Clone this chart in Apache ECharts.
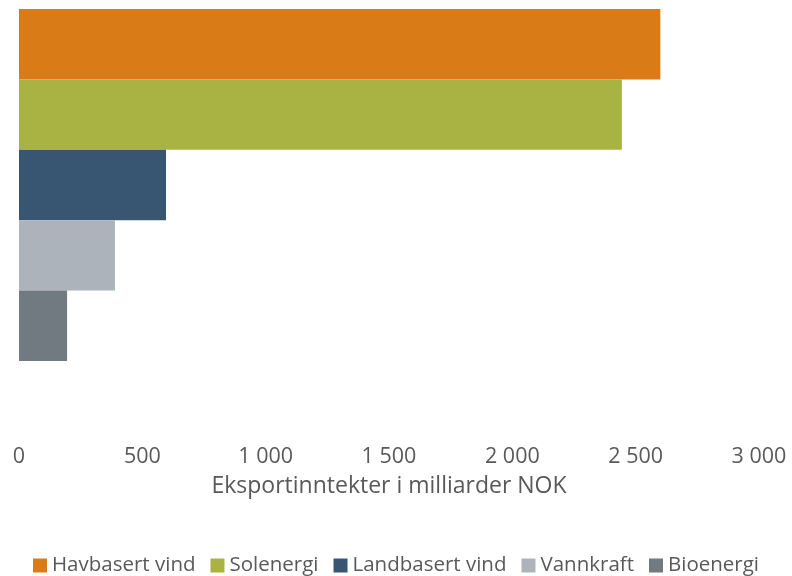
<!DOCTYPE html>
<html>
<head>
<meta charset="utf-8">
<script src="https://cdn.jsdelivr.net/npm/echarts@6/dist/echarts.min.js"></script>
<style>
  html, body { margin: 0; padding: 0; background: #fff; }
  #chart { width: 792px; height: 576px; }
</style>
</head>
<body>
<div id="chart"></div>
<script>
// verdier lest av figuren (milliarder NOK)
const seriesNames = ['Havbasert vind', 'Solenergi', 'Landbasert vind', 'Vannkraft', 'Bioenergi'];
const seriesValues = [2600, 2444, 596, 389, 195];
const seriesColors = ['#D97C17', '#A8B343', '#385572', '#ACB3BA', '#717981'];
const categories = [''];

const chart = echarts.init(document.getElementById('chart'));

const series = seriesNames.map((name, i) => ({
  name: name,
  type: 'bar',
  data: [seriesValues[i]],
  itemStyle: { color: seriesColors[i] },
  barGap: '0%',
  barCategoryGap: '0%'
}));

chart.setOption({
  animation: false,
  textStyle: { fontFamily: 'Open Sans' },
  grid: { left: 19, right: 33, top: 9, bottom: 215, containLabel: false },
  xAxis: {
    type: 'value',
    min: 0,
    max: 3000,
    interval: 500,
    axisLine: { show: false },
    axisTick: { show: false },
    splitLine: { show: false },
    axisLabel: {
      color: '#595959',
      fontSize: 21.5,
      margin: 85,
      formatter: v => String(v).replace(/\B(?=(\d{3})+(?!\d))/g, ' ')
    },
    name: 'Eksportinntekter i milliarder NOK',
    nameLocation: 'middle',
    nameGap: 114,
    nameTextStyle: { color: '#595959', fontSize: 23 }
  },
  yAxis: {
    type: 'category',
    data: categories,
    inverse: true,
    axisLine: { show: false },
    axisTick: { show: false },
    axisLabel: { show: false }
  },
  legend: {
    bottom: -5,
    left: 'center',
    itemWidth: 14,
    itemHeight: 14,
    itemGap: 15,
    icon: 'rect',
    textStyle: { color: '#595959', fontSize: 20.5 }
  },
  series: series
});
</script>
</body>
</html>
